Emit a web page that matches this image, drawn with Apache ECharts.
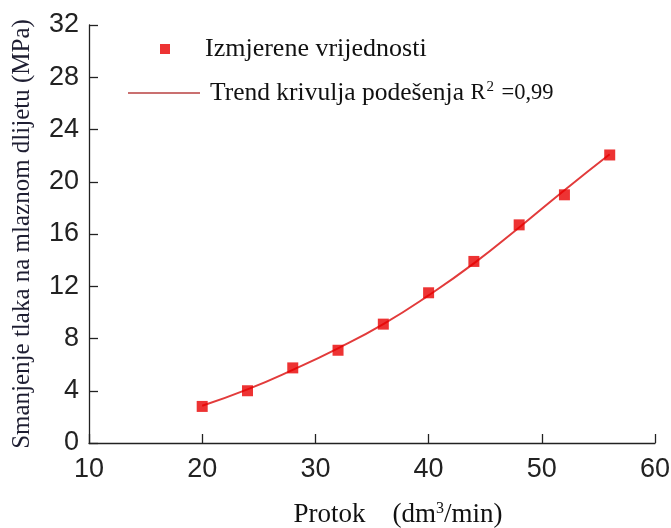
<!DOCTYPE html>
<html><head><meta charset="utf-8">
<script src="https://cdn.jsdelivr.net/npm/echarts@6/dist/echarts.min.js"></script>
<style>html,body{margin:0;padding:0;background:#fff}#c{width:671px;height:528px}</style>
</head><body><div id="c"></div>
<script>
var flow = [20, 24, 28, 32, 36, 40, 44, 48, 52, 56];
var measured = [2.8, 4.0, 5.75, 7.1, 9.1, 11.5, 13.9, 16.7, 19.0, 22.05];
var trend = [2.85, 4.1, 5.6, 7.25, 9.1, 11.3, 13.75, 16.5, 19.35, 22.1];
var xTicks = [10, 20, 30, 40, 50, 60];
var yTicks = [0, 4, 8, 12, 16, 20, 24, 28, 32];

var chart = echarts.init(document.getElementById('c'));
var serif = '"Liberation Serif", "DejaVu Serif", serif';
var sans = '"Liberation Sans", Arial, sans-serif';
chart.setOption({
  animation: false,
  grid: { left: 89, right: 16, top: 25, bottom: 85, containLabel: false, outerBoundsMode: 'none' },
  legend: [{
    data: ['Izmjerene vrijednosti'],
    left: 155, top: 31, icon: 'rect', itemWidth: 10, itemHeight: 10,
    textStyle: { fontFamily: serif, fontSize: 26, color: '#111', padding: [0, 0, 0, 30] }
  }, {
    data: [{ name: 'Trend', icon: 'rect', itemStyle: { color: '#b84040' } }],
    left: 123, top: 75, itemWidth: 72, itemHeight: 1.6,
    formatter: function () { return '{t|Trend krivulja podešenja }{r|R}{s|2}{r| =0,99}'; },
    textStyle: {
      fontFamily: serif, fontSize: 25.5, color: '#111', padding: [0, 0, 0, 5],
      rich: { t: { fontFamily: serif, fontSize: 25.5, color: '#111' },
              r: { fontFamily: serif, fontSize: 22.5, color: '#111' },
              s: { fontFamily: serif, fontSize: 15, color: '#111', verticalAlign: 'top', padding: [0, 2, 10, 1] } }
    }
  }],
  xAxis: {
    type: 'value', min: 10, max: 60, interval: 10,
    name: '{t|Protok    (dm}{s|3}{t|/min)}', nameLocation: 'middle', nameGap: 58,
    nameTextStyle: { padding: [0, 0, 0, 52],
                     rich: { t: { fontFamily: serif, fontSize: 27, color: '#111' },
                             s: { fontFamily: serif, fontSize: 16, color: '#111', verticalAlign: 'top', padding: [0, 0, 12, 0] } } },
    axisLine: { lineStyle: { color: '#222', width: 1.3 } },
    axisTick: { inside: true, length: 9, lineStyle: { color: '#222', width: 1.3 } },
    axisLabel: { fontFamily: sans, fontSize: 27, color: '#222', margin: 13,
                 formatter: function (v) { return xTicks.indexOf(v) >= 0 ? String(v) : ''; } },
    splitLine: { show: false }
  },
  yAxis: {
    type: 'value', min: 0, max: 32, interval: 4,
    name: 'Smanjenje tlaka na mlaznom dlijetu (MPa)', nameLocation: 'middle', nameGap: 54,
    nameTextStyle: { fontFamily: serif, fontSize: 25, color: '#1e1e32' },
    axisLine: { show: true, lineStyle: { color: '#222', width: 1.3 } },
    axisTick: { show: true, inside: true, length: 9, lineStyle: { color: '#222', width: 1.3 } },
    axisLabel: { fontFamily: sans, fontSize: 27, color: '#222', margin: 10,
                 formatter: function (v) { return yTicks.indexOf(v) >= 0 ? String(v) : ''; } },
    splitLine: { show: false }
  },
  series: [{
    name: 'Trend', type: 'line', smooth: true, symbol: 'none',
    lineStyle: { color: '#e23b3b', width: 2 },
    data: flow.map(function (x, i) { return [x, trend[i]]; }), z: 2
  }, {
    name: 'Izmjerene vrijednosti', type: 'scatter', symbol: 'rect', symbolSize: 11,
    itemStyle: { color: '#e80000' },
    data: flow.map(function (x, i) { return [x, measured[i]]; }), z: 3
  }]
});
</script></body></html>
